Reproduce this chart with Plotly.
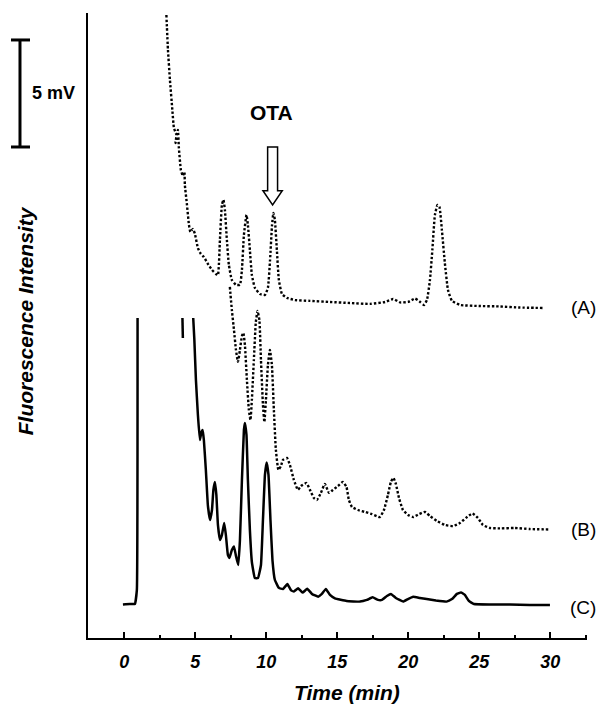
import plotly.graph_objects as go

# ---------------- data (time in min, signal in mV) ----------------
a_time = [2.97, 3.08, 3.22, 3.39, 3.50, 3.68, 3.61, 3.78, 3.85, 3.99, 4.13, 4.24, 4.27, 4.42,
          4.56, 4.66, 4.84, 4.98, 5.19, 5.40, 5.61, 5.89, 6.18, 6.46, 6.60, 6.74, 6.88, 6.99,
          7.09, 7.23, 7.37, 7.58, 7.87, 8.15, 8.29, 8.43, 8.61, 8.71, 8.85, 8.99, 9.20, 9.56,
          9.91, 10.12, 10.27, 10.41, 10.51, 10.61, 10.75, 10.89, 11.11, 11.46, 12.02, 13.08,
          14.49, 15.90, 17.31, 18.37, 18.94, 19.42, 19.99, 20.48, 20.84, 21.11, 21.32, 21.53,
          21.70, 21.88, 22.06, 22.20, 22.37, 22.58, 22.80, 23.08, 23.64, 25.05, 26.46, 27.87,
          29.49]
a_signal = [29.11, 27.48, 26.07, 24.67, 23.83, 23.50, 23.13, 23.74, 22.90, 21.87, 21.59, 21.78,
            21.17, 20.23, 19.30, 18.97, 19.11, 18.88, 18.22, 17.94, 17.80, 17.48, 17.20, 17.01,
            16.96, 18.60, 20.23, 20.47, 20.00, 18.60, 17.43, 16.73, 16.50, 16.50, 17.20, 18.83,
            19.77, 19.30, 18.13, 16.96, 16.36, 16.07, 16.03, 16.36, 17.66, 19.30, 19.86, 19.53,
            18.13, 16.73, 16.07, 15.89, 15.79, 15.75, 15.70, 15.65, 15.61, 15.70, 15.84, 15.68,
            15.70, 15.86, 15.70, 15.56, 15.79, 16.73, 18.13, 19.77, 20.23, 20.14, 19.07, 17.52,
            16.26, 15.75, 15.56, 15.51, 15.49, 15.44, 15.42]

b_time = [7.44, 7.58, 7.73, 7.87, 8.01, 8.15, 8.29, 8.39, 8.50, 8.64, 8.78, 8.89, 8.99, 9.13,
          9.27, 9.39, 9.52, 9.63, 9.77, 9.87, 9.98, 10.12, 10.26, 10.40, 10.54, 10.68, 10.86,
          11.04, 11.18, 11.46, 11.67, 11.95, 12.23, 12.45, 12.83, 13.08, 13.36, 13.57, 13.85,
          14.13, 14.42, 14.70, 15.05, 15.40, 15.65, 15.82, 16.04, 16.46, 16.95, 17.44, 18.00,
          18.29, 18.57, 18.78, 18.96, 19.13, 19.35, 19.63, 19.99, 20.34, 20.77, 21.18, 21.53,
          22.02, 22.59, 23.15, 23.64, 24.07, 24.52, 24.91, 25.26, 25.75, 26.46, 27.51, 28.57,
          29.98]
b_signal = [16.40, 15.33, 14.39, 13.46, 12.90, 13.46, 14.11, 14.25, 13.69, 12.06, 10.65, 10.19,
            11.12, 12.99, 14.77, 15.28, 14.86, 12.99, 10.89, 10.09, 11.12, 12.76, 13.46, 12.76,
            10.65, 8.79, 7.85, 8.04, 8.32, 8.41, 8.08, 7.38, 6.92, 7.10, 7.24, 6.92, 6.54, 6.45,
            6.78, 7.20, 6.78, 6.92, 7.10, 7.29, 7.06, 6.45, 6.12, 5.98, 5.89, 5.79, 5.65, 5.98,
            6.68, 7.29, 7.48, 7.20, 6.54, 5.98, 5.75, 5.65, 5.79, 5.89, 5.70, 5.47, 5.28, 5.23,
            5.37, 5.61, 5.82, 5.61, 5.28, 5.14, 5.12, 5.14, 5.09, 5.07]

c_time = [-0.09, 0.40, 0.75, 0.89, 0.94, None, 4.10, 4.13, None,
          4.86, 4.94, 5.05, 5.19, 5.33, 5.44, 5.52, 5.61, 5.75, 5.89, 6.04, 6.18, 6.28, 6.39,
          6.49, 6.60, 6.74, 6.88, 7.04, 7.16, 7.30, 7.41, 7.58, 7.73, 7.87, 8.03, 8.15, 8.29,
          8.43, 8.50, 8.61, 8.71, 8.85, 8.99, 9.20, 9.42, 9.63, 9.77, 9.91, 10.03, 10.16, 10.30,
          10.44, 10.61, 10.89, 11.18, 11.49, 11.74, 11.95, 12.25, 12.56, 12.89, 13.22, 13.66,
          13.92, 14.20, 14.49, 14.84, 15.66, 16.60, 17.09, 17.49, 17.87, 18.15, 18.50, 18.78,
          19.13, 19.65, 19.98, 20.35, 20.82, 21.30, 21.95, 22.70, 23.08, 23.43, 23.71, 23.99,
          24.27, 24.63, 25.75, 27.16, 28.57, 29.98]
c_signal = [1.57, 1.59, 1.59, 2.24, 14.95, None, 14.95, 14.02, None,
            14.95, 13.93, 12.06, 10.42, 9.25, 9.63, 9.72, 9.25, 7.85, 6.21, 5.51, 5.98, 6.92,
            7.29, 6.68, 5.28, 4.58, 4.81, 5.37, 4.81, 3.88, 3.74, 4.11, 4.28, 3.83, 3.41, 4.58,
            7.38, 9.72, 10.05, 9.49, 7.38, 5.05, 3.55, 2.80, 2.80, 3.41, 5.51, 7.62, 8.20, 7.62,
            5.51, 3.64, 2.71, 2.34, 2.29, 2.52, 2.24, 2.17, 2.32, 2.12, 2.30, 2.06, 1.93, 2.06,
            2.29, 2.01, 1.85, 1.73, 1.70, 1.78, 1.90, 1.78, 1.78, 1.96, 2.06, 1.87, 1.70, 1.82,
            1.93, 1.87, 1.82, 1.75, 1.70, 1.82, 2.06, 2.13, 2.01, 1.73, 1.59, 1.57, 1.57, 1.54,
            1.54]

trace_labels = ["(A)", "(B)", "(C)"]
x_ticks = [0, 5, 10, 15, 20, 25, 30]
x_tick_text = ["0", "5", "10", "15", "20", "25", "30"]
x_minor_ticks = [2.5, 7.5, 12.5, 17.5, 22.5, 27.5, 32.5]
ota_time = 10.45      # retention time of OTA peak (min)
scale_mv = 5          # scale bar height (mV)

FONT = "Liberation Sans, Arial, sans-serif"

fig = go.Figure()
dotted = dict(color="black", width=2.4, dash="2.4px,2px", shape="spline", smoothing=0.4)
fig.add_trace(go.Scatter(x=a_time, y=a_signal, mode="lines", line=dotted, hoverinfo="skip"))
fig.add_trace(go.Scatter(x=b_time, y=b_signal, mode="lines", line=dotted, hoverinfo="skip"))
fig.add_trace(go.Scatter(x=c_time, y=c_signal, mode="lines", connectgaps=False,
                         line=dict(color="black", width=2.5, shape="spline", smoothing=0.3),
                         hoverinfo="skip"))

fig.update_layout(
    width=600, height=706,
    margin=dict(l=88, r=13, t=13, b=68),
    plot_bgcolor="white", paper_bgcolor="white",
    showlegend=False,
    font=dict(family=FONT, color="black"),
)
fig.update_xaxes(
    range=[-2.55, 32.59], showgrid=False, zeroline=False,
    showline=True, linecolor="black", linewidth=2,
    ticks="inside", ticklen=6, tickwidth=2, tickcolor="black",
    tickvals=x_ticks, ticktext=x_tick_text,
    tickfont=dict(family=FONT, size=18, color="black", weight="bold", style="italic"),
    ticklabelstandoff=6,
    minor=dict(tickvals=x_minor_ticks, ticks="inside", ticklen=3, tickwidth=2,
               tickcolor="black", showgrid=False),
)
fig.update_yaxes(
    range=[0, 29.2], showgrid=False, zeroline=False,
    showline=True, linecolor="black", linewidth=2,
    ticks="", showticklabels=False,
)

# trace labels at the end of each baseline
ends = [a_signal[-1], b_signal[-1], c_signal[-1] - 0.12]
for lab, yv in zip(trace_labels, ends):
    fig.add_annotation(x=0.992, xref="paper", y=yv, yref="y", text=lab, showarrow=False,
                       font=dict(family=FONT, size=19, color="black"),
                       xanchor="center", yanchor="middle")

# axis titles
fig.add_annotation(x=0.519, xref="paper", y=-0.0864, yref="paper", text="Time (min)",
                   showarrow=False, xanchor="center", yanchor="middle",
                   font=dict(family=FONT, size=21, color="black", weight="bold", style="italic"))
fig.add_annotation(x=-0.126, xref="paper", y=0.507, yref="paper", text="Fluorescence Intensity",
                   showarrow=False, textangle=-90, xanchor="center", yanchor="middle",
                   font=dict(family=FONT, size=21, color="black", weight="bold", style="italic"))

# scale bar
sb_top = 27.94
sb_bot = sb_top - scale_mv
fig.add_shape(type="line", xref="paper", yref="y", x0=-0.1363, x1=-0.1363, y0=sb_bot, y1=sb_top,
              line=dict(color="black", width=3))
for yv in (sb_bot, sb_top):
    fig.add_shape(type="line", xref="paper", yref="y", x0=-0.1543, x1=-0.1162, y0=yv, y1=yv,
                  line=dict(color="black", width=3))
fig.add_annotation(x=-0.116, xref="paper", y=(sb_top + sb_bot) / 2, yref="y", text="<b>5 mV</b>",
                   showarrow=False, xanchor="left", yanchor="middle",
                   font=dict(family=FONT, size=18, color="black"))

# OTA label + hollow arrow
fig.add_annotation(x=ota_time - 0.05, y=24.53, xref="x", yref="y", text="<b>OTA</b>",
                   showarrow=False, font=dict(family=FONT, size=21, color="black"))
sw, hw = 0.35, 0.68
y_top, y_sb, y_tip = 22.94, 20.90, 20.23
path = (f"M {ota_time - sw},{y_top} L {ota_time + sw},{y_top} L {ota_time + sw},{y_sb} "
        f"L {ota_time + hw},{y_sb} L {ota_time},{y_tip} L {ota_time - hw},{y_sb} "
        f"L {ota_time - sw},{y_sb} Z")
fig.add_shape(type="path", xref="x", yref="y", path=path, fillcolor="white",
              line=dict(color="black", width=1.5))

# remove the browser's default 8px body margin so the 600x706 figure fills the window
fig.write_html("out.html",
               config={"displayModeBar": False, "staticPlot": True},
               post_script="document.body.style.margin='0';document.body.style.overflow='hidden';")
